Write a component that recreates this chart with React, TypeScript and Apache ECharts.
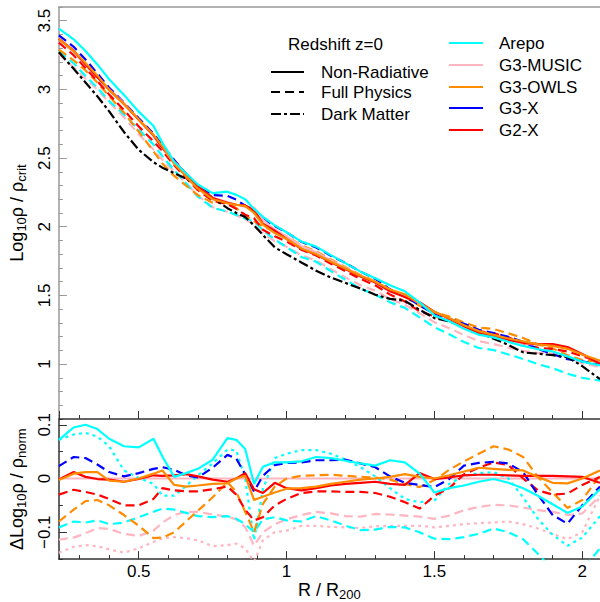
import React, { useEffect, useRef } from "react";
import * as echarts from "echarts";

// Radius grid, R / R200
const R = [0.23, 0.28, 0.32, 0.36, 0.4, 0.45, 0.5, 0.55, 0.58, 0.62, 0.66, 0.7, 0.75, 0.8, 0.83, 0.86, 0.89, 0.92, 0.96, 1.0,
  1.05, 1.1, 1.15, 1.2, 1.25, 1.3, 1.35, 1.4, 1.45, 1.5, 1.55, 1.6, 1.65, 1.7, 1.75, 1.8, 1.85, 1.9, 1.95, 2.0, 2.06];

// Top panel: Log10 rho / rho_crit of the normalising profile (G3-MUSIC, non-radiative)
const MUSIC_NR = [3.37, 3.27, 3.18, 3.09, 3.0, 2.9, 2.78, 2.66, 2.57, 2.47, 2.38, 2.29, 2.21, 2.18, 2.16, 2.145, 2.14, 2.05, 1.98, 1.93,
  1.86, 1.815, 1.755, 1.7, 1.645, 1.6, 1.54, 1.5, 1.44, 1.38, 1.33, 1.27, 1.22, 1.195, 1.17, 1.15, 1.14, 1.14, 1.12, 1.07, 1.01];

// Top panel: dark matter only
const DARK_MATTER = [3.27, 3.15, 3.05, 2.95, 2.84, 2.69, 2.56, 2.47, 2.43, 2.39, 2.35, 2.3, 2.21, 2.135, 2.1, 2.07, 2.01, 1.94, 1.85, 1.8,
  1.74, 1.68, 1.63, 1.59, 1.55, 1.505, 1.475, 1.46, 1.395, 1.335, 1.31, 1.28, 1.23, 1.185, 1.14, 1.085, 1.075, 1.065, 1.05, 0.985, 0.89];

// Bottom panel: Delta Log10 rho / rho_norm
const AREPO_NR = [0.072, 0.095, 0.1, 0.092, 0.074, 0.06, 0.058, 0.074, 0.041, 0.003, 0.01, 0.018, 0.035, 0.075, 0.072, 0.055, -0.01, 0.022, 0.03, 0.03,
  0.032, 0.04, 0.038, 0.033, 0.028, 0.024, 0.034, 0.03, 0.009, -0.026, -0.018, -0.013, -0.006, -0.001, -0.008, -0.018, -0.032, -0.048, -0.064, -0.052, -0.02];
const AREPO_FP = [-0.091, -0.08, -0.082, -0.078, -0.085, -0.082, -0.072, -0.062, -0.056, -0.058, -0.064, -0.07, -0.072, -0.07, -0.075, -0.085, -0.1, -0.076, -0.072, -0.078,
  -0.08, -0.07, -0.078, -0.088, -0.096, -0.095, -0.09, -0.091, -0.1, -0.112, -0.113, -0.109, -0.103, -0.093, -0.1, -0.113, -0.14, -0.17, -0.19, -0.17, -0.13];
const AREPO_DOT = [0.072, 0.082, 0.085, 0.078, 0.06, 0.015, 0.001, -0.01, -0.032, -0.032, -0.014, 0.006, 0.028, 0.054, 0.052, 0.0, -0.115, -0.02, 0.038, 0.046,
  0.053, 0.053, 0.046, 0.035, 0.021, 0.004, -0.018, -0.038, -0.044, -0.041, -0.01, 0.005, 0.01, 0.012, 0.0, -0.035, -0.075, -0.105, -0.125, -0.11, -0.07];
const MUSIC_NR_DELTA = [0, 0, 0, 0, 0, 0, 0, 0, 0, 0, 0, 0, 0, 0, 0, 0, 0, 0, 0, 0,
  0, 0, 0, 0, 0, 0, 0, 0, 0, 0, 0, 0, 0, 0, 0, 0, 0, 0, 0, 0, 0];
const MUSIC_FP = [-0.114, -0.11, -0.102, -0.092, -0.094, -0.103, -0.107, -0.097, -0.082, -0.068, -0.062, -0.062, -0.067, -0.071, -0.076, -0.09, -0.125, -0.1, -0.085, -0.076,
  -0.068, -0.062, -0.065, -0.07, -0.071, -0.066, -0.067, -0.069, -0.071, -0.075, -0.069, -0.059, -0.053, -0.049, -0.05, -0.054, -0.059, -0.062, -0.068, -0.065, -0.032];
const MUSIC_DOT = [-0.138, -0.127, -0.124, -0.126, -0.132, -0.138, -0.13, -0.118, -0.111, -0.109, -0.111, -0.115, -0.126, -0.124, -0.121, -0.13, -0.155, -0.115, -0.1, -0.097,
  -0.088, -0.088, -0.09, -0.091, -0.092, -0.089, -0.088, -0.088, -0.088, -0.091, -0.088, -0.085, -0.083, -0.082, -0.08, -0.085, -0.093, -0.103, -0.113, -0.1, -0.032];
const OWLS_NR = [-0.003, 0.009, 0.012, 0.012, -0.004, -0.006, 0.0, 0.009, 0.015, -0.012, -0.015, -0.013, -0.01, -0.009, 0.0, 0.005, -0.04, -0.034, -0.026, -0.019,
  -0.018, -0.015, -0.01, -0.006, -0.002, 0.0, 0.003, 0.008, 0.003, 0.0, 0.006, 0.013, 0.02, 0.018, 0.016, 0.015, 0.003, -0.008, -0.009, 0.0, 0.015];
const OWLS_FP = [-0.08, -0.058, -0.042, -0.04, -0.05, -0.068, -0.088, -0.111, -0.11, -0.1, -0.08, -0.06, -0.035, -0.007, -0.025, -0.062, -0.1, -0.047, -0.015, 0.0,
  0.005, 0.006, 0.007, 0.005, 0.003, 0.002, -0.002, -0.01, -0.016, -0.003, 0.016, 0.032, 0.046, 0.06, 0.054, 0.04, 0.003, -0.026, -0.055, -0.04, 0.006];
const G3X_FP = [0.023, 0.04, 0.038, 0.026, 0.012, 0.004, 0.01, 0.018, 0.021, 0.016, 0.006, 0.002, 0.02, 0.044, 0.037, 0.008, -0.024, 0.005, 0.025, 0.029,
  0.03, 0.034, 0.034, 0.035, 0.028, 0.021, 0.004, -0.008, -0.012, -0.016, -0.001, 0.024, 0.029, 0.031, 0.028, 0.012, -0.03, -0.068, -0.084, -0.05, -0.015];
const G2X_NR = [-0.002, 0.012, 0.003, -0.001, -0.002, -0.006, -0.001, 0.006, 0.005, 0.006, 0.008, 0.004, -0.002, -0.006, 0.0, 0.01, -0.02, -0.027, -0.008, -0.018,
  -0.022, -0.018, -0.013, -0.01, -0.008, -0.006, -0.01, -0.012, 0.01, -0.001, 0.002, 0.006, 0.007, 0.007, 0.006, 0.005, 0.005, 0.005, 0.004, 0.003, -0.008];
const G2X_FP = [-0.03, -0.021, -0.025, -0.03, -0.038, -0.05, -0.05, -0.038, -0.018, -0.022, -0.024, -0.024, -0.02, -0.015, -0.03, -0.058, -0.078, -0.072, -0.05, -0.038,
  -0.027, -0.024, -0.024, -0.025, -0.025, -0.027, -0.034, -0.044, -0.056, -0.032, -0.018, 0.008, 0.02, 0.03, 0.025, 0.0, -0.022, -0.03, -0.028, -0.012, 0.003];

const X_MIN = 0.23;
const X_MAX = 2.06;

const FONT = '"Liberation Sans", Arial, Helvetica, sans-serif';
const COL = { cyan: "#00ffff", pink: "#ffb6c1", orange: "#ff8c00", blue: "#0000ff", red: "#ff0000", black: "#000000" };
const DASH = [9, 5];
const DOT = [3, 4];
const DASHDOT = [10, 3, 3, 3];

const pairs = (ys: number[]) => R.map((x, i) => [x, ys[i]]);
const abs = (ys: number[]) => R.map((x, i) => [x, Math.round((MUSIC_NR[i] + ys[i]) * 10000) / 10000]);

function ln(name: string, data: number[][], color: string, type: any, panel: number, width = 2.2) {
  return {
    name, type: "line", data,
    xAxisIndex: panel === 0 ? 0 : 3, yAxisIndex: panel === 0 ? 0 : 2,
    showSymbol: false, symbol: "none", smooth: false, clip: true, silent: true,
    lineStyle: { color, width, type }, itemStyle: { color },
    emphasis: { disabled: true },
  };
}

const DARK = "#333";
const GRAY = "#999";

function xAxes() {
  const common = { type: "value", min: X_MIN, max: X_MAX, splitLine: { show: false } };
  return [
    { ...common, gridIndex: 0, position: "bottom", splitNumber: 4,
      axisLine: { show: true, onZero: false, lineStyle: { color: DARK, width: 1.5 } },
      axisTick: { show: true, inside: true, length: 8, lineStyle: { color: DARK } }, axisLabel: { show: false } },
    { ...common, gridIndex: 0, position: "bottom", splitNumber: 18,
      axisLine: { show: false, onZero: false }, axisTick: { show: true, inside: true, length: 4, lineStyle: { color: DARK } }, axisLabel: { show: false } },
    { ...common, gridIndex: 0, position: "top", splitNumber: 4,
      axisLine: { show: true, onZero: false, lineStyle: { color: GRAY, width: 1.5 } }, axisTick: { show: false }, axisLabel: { show: false } },
    { ...common, gridIndex: 1, position: "bottom", splitNumber: 4,
      axisLine: { show: true, onZero: false, lineStyle: { color: DARK, width: 1.5 } },
      axisTick: { show: true, inside: true, length: 8, lineStyle: { color: DARK } },
      axisLabel: { show: true, color: "#000", fontSize: 17, fontFamily: FONT, margin: 4, showMinLabel: false, showMaxLabel: false },
      name: "{n|R / R}{s|200}", nameLocation: "middle", nameGap: 14,
      nameTextStyle: { color: "#000", rich: {
        n: { fontSize: 18, fontFamily: FONT, color: "#000", lineHeight: 22, verticalAlign: "middle" },
        s: { fontSize: 13, fontFamily: FONT, color: "#000", lineHeight: 14, verticalAlign: "bottom" } } } },
    { ...common, gridIndex: 1, position: "bottom", splitNumber: 18,
      axisLine: { show: false, onZero: false }, axisTick: { show: true, inside: true, length: 4, lineStyle: { color: DARK } }, axisLabel: { show: false } },
  ];
}

const fmtY = (v: number) => (v < 0 ? "\u2212" + String(Math.abs(Math.round(v * 100) / 100)) : String(Math.round(v * 100) / 100));

function yAxes() {
  const richName = {
    n: { fontSize: 18, fontFamily: FONT, color: "#000", lineHeight: 22, verticalAlign: "middle" },
    s: { fontSize: 13, fontFamily: FONT, color: "#000", lineHeight: 14, verticalAlign: "bottom" },
  };
  return [
    { type: "value", gridIndex: 0, position: "left", min: 0.6, max: 3.6, splitNumber: 6, splitLine: { show: false },
      axisLine: { show: true, onZero: false, lineStyle: { color: GRAY, width: 1.5 } },
      axisTick: { show: true, inside: true, length: 8, lineStyle: { color: GRAY } },
      axisLabel: { show: true, rotate: 90, color: "#000", fontSize: 17, fontFamily: FONT, margin: 6, showMinLabel: false, showMaxLabel: false, formatter: fmtY },
      name: "{n|Log}{s|10}{n|\u03c1 / \u03c1}{s|crit}", nameLocation: "middle", nameRotate: 90, nameGap: 21,
      nameTextStyle: { color: "#000", rich: richName } },
    { type: "value", gridIndex: 0, position: "left", min: 0.6, max: 3.6, interval: 0.1, splitLine: { show: false },
      axisLine: { show: false, onZero: false }, axisTick: { show: true, inside: true, length: 4, lineStyle: { color: GRAY } }, axisLabel: { show: false } },
    { type: "value", gridIndex: 1, position: "left", min: -0.15, max: 0.11, splitNumber: 3, splitLine: { show: false },
      axisLine: { show: true, onZero: false, lineStyle: { color: DARK, width: 1.5 } },
      axisTick: { show: true, inside: true, length: 8, lineStyle: { color: DARK } },
      axisLabel: { show: true, rotate: 90, color: "#000", fontSize: 17, fontFamily: FONT, margin: 6, showMinLabel: false, showMaxLabel: false, formatter: fmtY },
      name: "{n|\u0394Log}{s|10}{n|\u03c1 / \u03c1}{s|norm}", nameLocation: "middle", nameRotate: 90, nameGap: 21,
      nameTextStyle: { color: "#000", rich: richName } },
    { type: "value", gridIndex: 1, position: "left", min: -0.15, max: 0.11, interval: 0.05, splitLine: { show: false },
      axisLine: { show: false, onZero: false }, axisTick: { show: true, inside: true, length: 4, lineStyle: { color: DARK } }, axisLabel: { show: false } },
  ];
}

function legendGraphics() {
  const txt = (text: string, x: number, y: number) => ({
    type: "text", x, y, silent: true,
    style: { text, fill: "#000", fontSize: 17, fontFamily: FONT, verticalAlign: "middle", align: "left" },
  });
  const seg = (x1: number, x2: number, y: number, color: string, dash: any) => ({
    type: "line", silent: true, shape: { x1, y1: y, x2, y2: y },
    style: { stroke: color, lineWidth: 2, lineDash: dash },
  });
  const left = [
    { label: "Non-Radiative", dash: null, y: 72 },
    { label: "Full Physics", dash: DASH, y: 92 },
    { label: "Dark Matter", dash: DASHDOT, y: 114 },
  ];
  const right = [
    { label: "Arepo", color: COL.cyan, y: 43 },
    { label: "G3-MUSIC", color: COL.pink, y: 65 },
    { label: "G3-OWLS", color: COL.orange, y: 87 },
    { label: "G3-X", color: COL.blue, y: 108 },
    { label: "G2-X", color: COL.red, y: 130 },
  ];
  const els: any[] = [txt("Redshift z=0", 288, 44)];
  left.forEach((e) => { els.push(seg(271, 304, e.y, "#000", e.dash)); els.push(txt(e.label, 321, e.y)); });
  right.forEach((e) => { els.push(seg(449, 483, e.y, e.color, null)); els.push(txt(e.label, 499, e.y)); });
  return els;
}

export default function App() {
  const ref = useRef<HTMLDivElement>(null);
  useEffect(() => {
    document.body.style.margin = "0";
    if (!ref.current) return;
    const chart = echarts.init(ref.current, undefined, { renderer: "svg" });
    const series = [
      // top panel
      ln("G3-MUSIC FP", abs(MUSIC_FP), COL.pink, DASH, 0),
      ln("Arepo FP", abs(AREPO_FP), COL.cyan, DASH, 0),
      ln("G3-OWLS FP", abs(OWLS_FP), COL.orange, DASH, 0),
      ln("G2-X FP", abs(G2X_FP), COL.red, DASH, 0),
      ln("G3-X FP", abs(G3X_FP), COL.blue, DASH, 0),
      ln("Dark Matter", pairs(DARK_MATTER), COL.black, DASHDOT, 0),
      ln("G3-MUSIC NR", pairs(MUSIC_NR), COL.pink, "solid", 0),
      ln("G2-X NR", abs(G2X_NR), COL.red, "solid", 0),
      ln("G3-OWLS NR", abs(OWLS_NR), COL.orange, "solid", 0),
      ln("Arepo NR", abs(AREPO_NR), COL.cyan, "solid", 0),
      // bottom panel
      ln("G3-MUSIC NR d", pairs(MUSIC_NR_DELTA), COL.pink, "solid", 1),
      ln("G3-MUSIC dot d", pairs(MUSIC_DOT), COL.pink, DOT, 1),
      ln("G3-MUSIC FP d", pairs(MUSIC_FP), COL.pink, DASH, 1),
      ln("Arepo dot d", pairs(AREPO_DOT), COL.cyan, DOT, 1),
      ln("Arepo FP d", pairs(AREPO_FP), COL.cyan, DASH, 1),
      ln("G3-OWLS FP d", pairs(OWLS_FP), COL.orange, DASH, 1),
      ln("G2-X FP d", pairs(G2X_FP), COL.red, DASH, 1),
      ln("G3-X FP d", pairs(G3X_FP), COL.blue, DASH, 1),
      ln("G2-X NR d", pairs(G2X_NR), COL.red, "solid", 1),
      ln("G3-OWLS NR d", pairs(OWLS_NR), COL.orange, "solid", 1),
      ln("Arepo NR d", pairs(AREPO_NR), COL.cyan, "solid", 1),
    ];
    chart.setOption({
      animation: false,
      backgroundColor: "#ffffff",
      textStyle: { fontFamily: FONT },
      grid: [
        { left: 56, right: 0, top: 7, height: 412, containLabel: false },
        { left: 56, right: 0, top: 419.4, height: 147.3, containLabel: false },
      ],
      xAxis: xAxes(),
      yAxis: yAxes(),
      series,
      graphic: { elements: legendGraphics() },
    });
    return () => chart.dispose();
  }, []);
  return <div ref={ref} style={{ width: 600, height: 602 }} />;
}
